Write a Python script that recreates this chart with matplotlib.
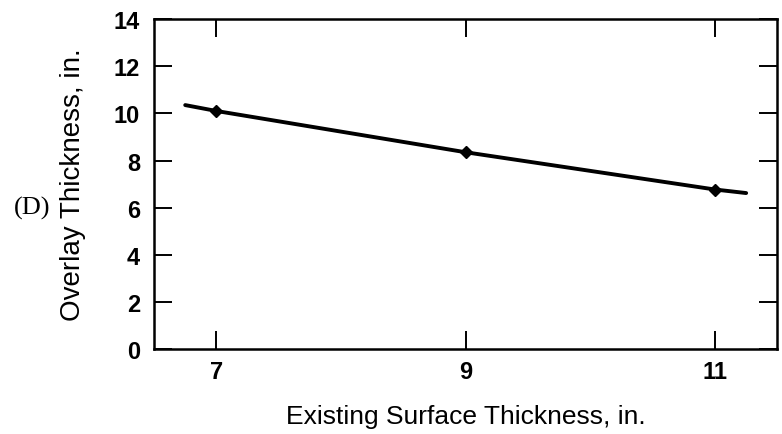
import matplotlib.pyplot as plt

# Data
surface = [6.75, 7, 9, 11, 11.25]         # existing surface thickness, in.
overlay = [10.35, 10.1, 8.35, 6.77, 6.62]  # overlay thickness, in.
pts_x = [7, 9, 11]
pts_y = [10.1, 8.35, 6.77]

xticks = [7, 9, 11]
yticks = [0, 2, 4, 6, 8, 10, 12, 14]

plt.rcParams['font.family'] = ['Liberation Sans', 'DejaVu Sans']

fig = plt.figure(figsize=(7.82, 4.35), dpi=100)
ax = fig.add_axes([0.197, 0.195, 0.797, 0.759])

ax.plot(surface, overlay, color='black', lw=2.8, solid_capstyle='round')
ax.plot(pts_x, pts_y, 'D', color='black', ms=6)

ax.set_xlim(6.5, 11.5)
ax.set_ylim(0, 14)
ax.set_xticks(xticks)
ax.set_yticks(yticks)

ax.tick_params(direction='in', length=13, width=1.4,
               top=True, right=True, labelsize=17)
ax.tick_params(axis='y', pad=10)
ax.tick_params(axis='x', pad=8)
for lab in ax.get_xticklabels() + ax.get_yticklabels():
    lab.set_fontweight('bold')

for s in ax.spines.values():
    s.set_linewidth(1.8)

ax.set_xlabel('Existing Surface Thickness, in.', fontsize=19, labelpad=15)
ax.set_ylabel('Overlay Thickness, in.', fontsize=20, labelpad=20)

fig.text(32 / 782, (435 - 208) / 435, '(D)', family='Liberation Serif',
         fontsize=19, ha='center', va='center')

fig.savefig('out.png', dpi=100)
